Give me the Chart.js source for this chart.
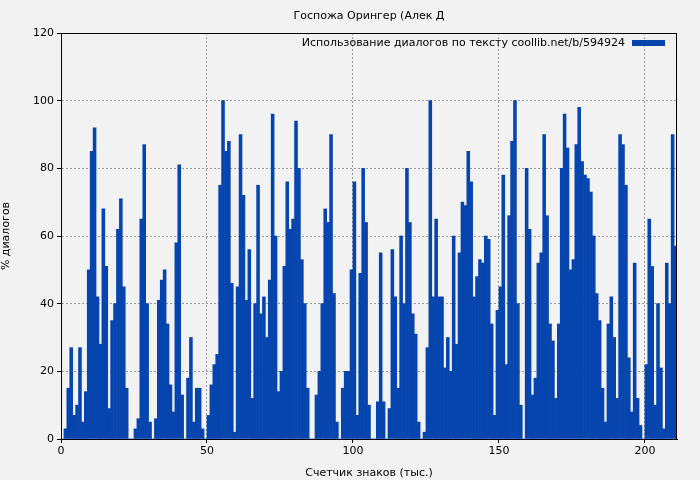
<!DOCTYPE html>
<html>
<head>
<meta charset="utf-8">
<script src="https://cdn.jsdelivr.net/npm/chart.js@4"></script>
<style>
  body { margin: 0; background: #f2f2f2; }
  #wrap { width: 700px; height: 480px; }
</style>
</head>
<body>
<div id="wrap"><canvas id="chart"></canvas></div>
<script>
// Data, one value per thousand characters
const startX = 0;
const usage = [
    0, 3, 15, 27, 7, 10, 27, 5, 14, 50,
    85, 92, 42, 28, 68, 51, 9, 35, 40, 62,
    71, 45, 15, 0, 0, 3, 6, 65, 87, 40,
    5, 0, 6, 41, 47, 50, 34, 16, 8, 58,
    81, 13, 0, 18, 30, 5, 15, 15, 3, 0,
    7, 16, 22, 25, 75, 100, 85, 88, 46, 2,
    45, 90, 72, 41, 56, 12, 40, 75, 37, 42,
    30, 47, 96, 60, 14, 20, 51, 76, 62, 65,
    94, 80, 53, 40, 15, 0, 0, 13, 20, 40,
    68, 64, 90, 43, 5, 0, 15, 20, 20, 50,
    76, 7, 49, 80, 64, 10, 0, 0, 11, 55,
    11, 0, 9, 56, 42, 15, 60, 40, 80, 64,
    37, 31, 5, 0, 2, 27, 100, 42, 65, 42,
    42, 21, 30, 20, 60, 28, 55, 70, 69, 85,
    76, 42, 48, 53, 52, 60, 59, 34, 7, 38,
    45, 78, 22, 66, 88, 100, 40, 10, 0, 80,
    62, 13, 18, 52, 55, 90, 66, 34, 29, 12,
    34, 80, 96, 86, 50, 53, 87, 98, 82, 78,
    77, 73, 60, 43, 35, 15, 5, 34, 42, 30,
    12, 90, 87, 75, 24, 8, 52, 12, 4, 0,
    22, 65, 51, 10, 40, 21, 3, 52, 40, 90,
    57
];
const xTicks = [0, 50, 100, 150, 200];
const yTicks = [0, 20, 40, 60, 80, 100, 120];
const titleText = 'Госпожа Орингер (Алек Д';
const legendText = 'Использование диалогов по тексту coollib.net/b/594924';
const barColor = '#0645ad';

const points = usage.map((v, i) => ({ x: startX + i + 0.5, y: v }));

// Background, frame, title and legend
const decorPlugin = {
    id: 'decor',
    beforeDraw(chart) {
        const c = chart.ctx;
        c.save();
        c.fillStyle = '#f2f2f2';
        c.fillRect(0, 0, chart.width, chart.height);
        c.restore();
    },
    afterDraw(chart) {
        const c = chart.ctx;
        const a = chart.chartArea;
        c.save();
        c.strokeStyle = '#000';
        c.lineWidth = 1;
        c.strokeRect(a.left + 0.5, a.top + 0.5, a.right - a.left - 1, a.bottom - a.top);
        c.fillStyle = '#000';
        c.font = '11px "DejaVu Sans"';
        c.textAlign = 'center';
        c.textBaseline = 'middle';
        c.fillText(titleText, (a.left + a.right) / 2, 16);
        c.textAlign = 'right';
        c.fillText(legendText, 625, 43);
        c.fillStyle = barColor;
        c.fillRect(632, 40, 33, 6);
        c.restore();
    }
};

new Chart(document.getElementById('chart'), {
    type: 'bar',
    data: {
        datasets: [{
            label: legendText,
            data: points,
            backgroundColor: barColor,
            borderWidth: 0,
            barPercentage: 1,
            categoryPercentage: 1
        }]
    },
    options: {
        responsive: true,
        maintainAspectRatio: false,
        animation: false,
        layout: { padding: { top: 33, right: 23, left: 0, bottom: 0 } },
        plugins: {
            legend: { display: false },
            title: { display: false },
            tooltip: { enabled: false }
        },
        scales: {
            x: {
                type: 'linear',
                min: 0,
                max: 211,
                offset: false,
                afterBuildTicks: s => { s.ticks = xTicks.map(v => ({ value: v })); },
                afterFit: s => { s.height = 41; },
                grid: { color: '#999', tickColor: '#000', tickLength: 4, offset: false },
                border: { color: '#000', dash: [2, 2] },
                ticks: { color: '#000', font: { family: 'DejaVu Sans', size: 11 }, maxRotation: 0, padding: 2 },
                title: { display: true, text: 'Счетчик знаков (тыс.)', color: '#000', font: { family: 'DejaVu Sans', size: 11 }, padding: 0 }
            },
            y: {
                min: 0,
                max: 120,
                afterBuildTicks: s => { s.ticks = yTicks.map(v => ({ value: v })); },
                afterFit: s => { s.width = 61; },
                grid: { color: '#999', tickColor: '#000', tickLength: 4 },
                border: { color: '#000', dash: [2, 2] },
                ticks: { color: '#000', font: { family: 'DejaVu Sans', size: 11 }, padding: 3 },
                title: { display: true, text: '% диалогов', color: '#000', font: { family: 'DejaVu Sans', size: 11 }, padding: 0 }
            }
        }
    },
    plugins: [decorPlugin]
});
</script>
</body>
</html>
